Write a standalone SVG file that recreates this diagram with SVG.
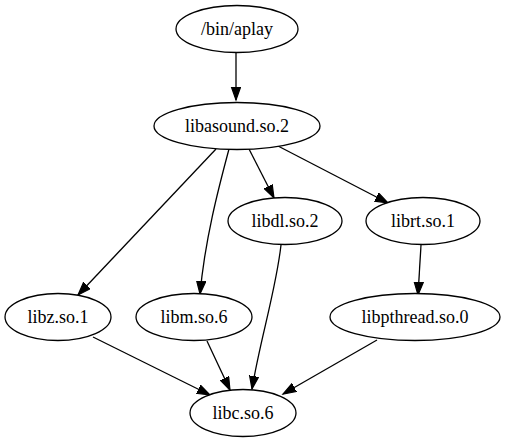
<svg xmlns="http://www.w3.org/2000/svg" width="505" height="443" viewBox="0 0 505 443">
<defs>
<style>
.node ellipse{fill:#fff;stroke:#000;stroke-width:1.3}
.node text{font-family:"Liberation Serif","Times New Roman",serif;font-size:18px;text-anchor:middle;fill:#000}
.edges path{fill:none;stroke:#000;stroke-width:1.3;marker-end:url(#arr)}
</style>
<marker id="arr" markerUnits="userSpaceOnUse" markerWidth="16" markerHeight="12" refX="13" refY="5" orient="auto" viewBox="0 0 16 12">
<polygon points="0,0.4 13,5 0,9.6" fill="#000" stroke="#000" stroke-width="1.2"/>
</marker>
</defs>
<rect width="505" height="443" fill="#fff"/>
<g class="edges">
<path d="M236,52 L236,100"/>
<path d="M216,149 L78,295"/>
<path d="M229,149 C218,190 205,240 200,294"/>
<path d="M249,149 L274,198"/>
<path d="M278,146 L388,203"/>
<path d="M421,245 L418,295"/>
<path d="M281,245 C276,290 260,340 252,389"/>
<path d="M93,337 L210,395"/>
<path d="M207,341 L230,390"/>
<path d="M377,340 L283,394"/>
</g>
<g class="node" id="aplay"><ellipse cx="237" cy="29" rx="61" ry="23.5"/><text x="237" y="35">/bin/aplay</text></g>
<g class="node" id="libasound"><ellipse cx="237" cy="126" rx="83" ry="23.5"/><text x="237" y="132">libasound.so.2</text></g>
<g class="node" id="libdl"><ellipse cx="285" cy="221" rx="57" ry="23.5"/><text x="285" y="227">libdl.so.2</text></g>
<g class="node" id="librt"><ellipse cx="423" cy="221" rx="57" ry="23.5"/><text x="423" y="227">librt.so.1</text></g>
<g class="node" id="libz"><ellipse cx="58" cy="317" rx="53" ry="23.5"/><text x="58" y="323">libz.so.1</text></g>
<g class="node" id="libm"><ellipse cx="194" cy="317" rx="58" ry="23.5"/><text x="194" y="323">libm.so.6</text></g>
<g class="node" id="libpthread"><ellipse cx="415" cy="317" rx="85" ry="23.5"/><text x="415" y="323">libpthread.so.0</text></g>
<g class="node" id="libc"><ellipse cx="243" cy="413" rx="53" ry="23.5"/><text x="243" y="419">libc.so.6</text></g>
</svg>
